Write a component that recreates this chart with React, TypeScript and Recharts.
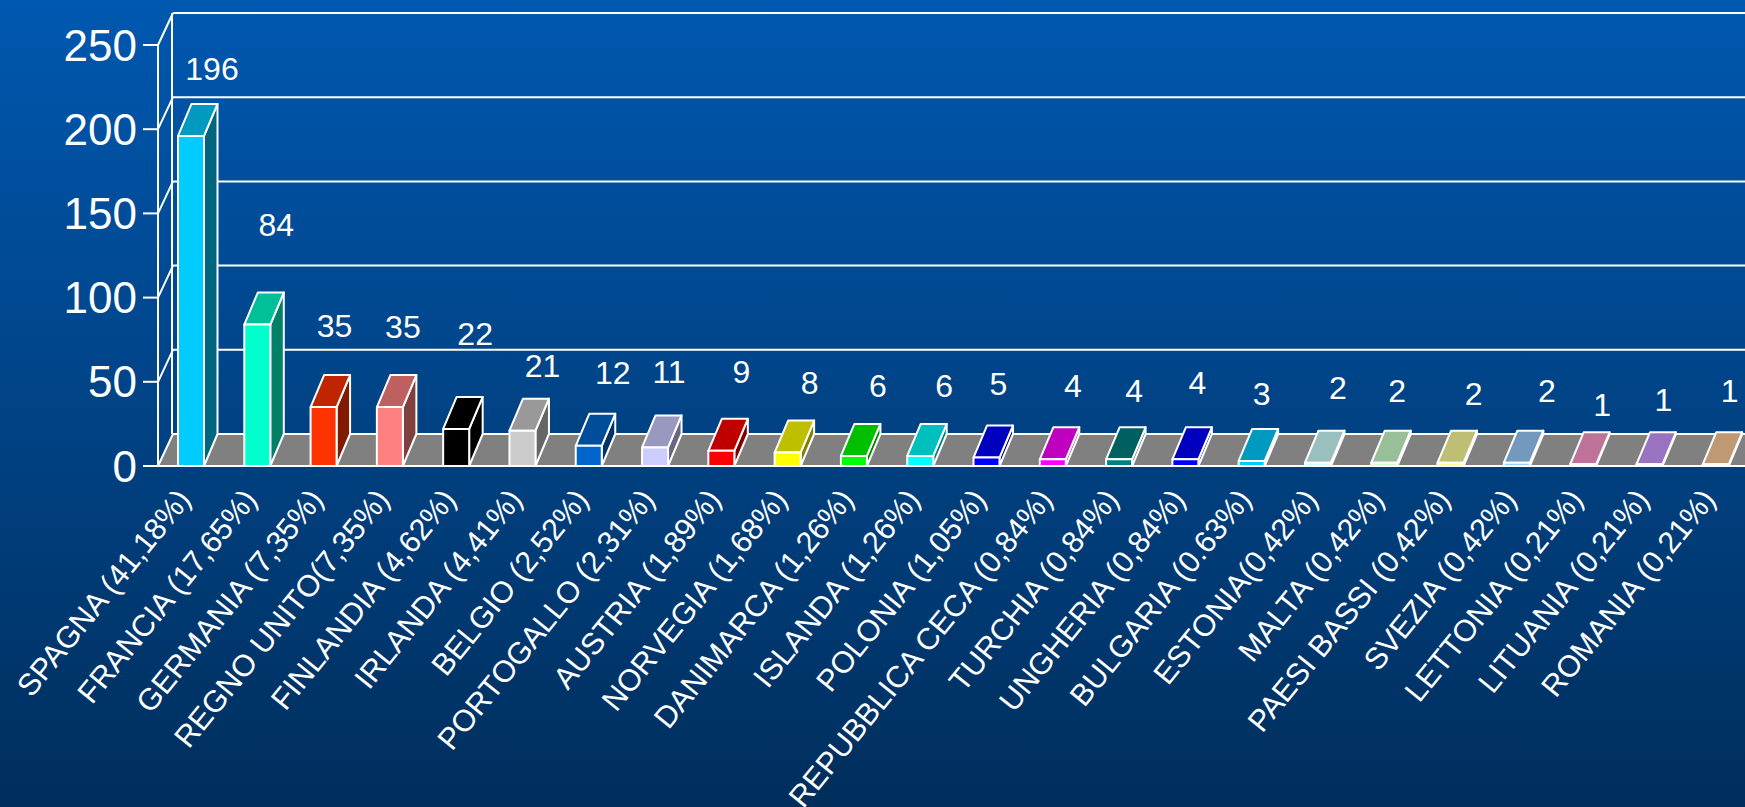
import React from "react";
import { BarChart, Bar, XAxis, YAxis, ReferenceLine, LabelList } from "recharts";

const categories = ["SPAGNA (41,18%)","FRANCIA (17,65%)","GERMANIA (7,35%)","REGNO UNITO(7,35%)","FINLANDIA (4,62%)","IRLANDA (4,41%)","BELGIO (2,52%)","PORTOGALLO (2,31%)","AUSTRIA (1,89%)","NORVEGIA (1,68%)","DANIMARCA (1,26%)","ISLANDA (1,26%)","POLONIA (1,05%)","REPUBBLICA CECA (0,84%)","TURCHIA (0,84%)","UNGHERIA (0,84%)","BULGARIA (0.63%)","ESTONIA(0,42%)","MALTA (0,42%)","PAESI BASSI (0,42%)","SVEZIA (0,42%)","LETTONIA (0,21%)","LITUANIA (0,21%)","ROMANIA (0,21%)"];
const values = [196,84,35,35,22,21,12,11,9,8,6,6,5,4,4,4,3,2,2,2,2,1,1,1];
const colors = ["#00CCFF","#00FFCC","#FF3300","#FF8080","#000000","#CCCCCC","#0066CC","#CCCCFF","#FF0000","#FFFF00","#00FF00","#00FFFF","#0000FF","#FF00FF","#008080","#0000FF","#00CCFF","#CCFFFF","#CCFFCC","#FFFF99","#99CCFF","#FF99CC","#CC99FF","#FFCC99"];
const yTicks = [0,50,100,150,200,250];
const labelDx = [21,19,11,13,19,20,24,14,20,22,24,24,12,20,15,12,10,20,13,23,30,19,14,14];
const labelDy = [-67,-100,-81,-80,-95,-65,-73,-75,-79,-70,-70,-70,-74,-73,-68,-76,-67,-75,-72,-69,-72,-59,-64,-73];

const data = categories.map((name, i) => ({ name, value: values[i], color: colors[i] }));
const DX = 15, DY = -32, FONT = "'Liberation Sans', Arial, sans-serif";

function shade(hex: string, k: number) {
  const n = parseInt(hex.slice(1), 16);
  const c = [(n >> 16) & 255, (n >> 8) & 255, n & 255].map((v) => Math.round(v * k));
  return `rgb(${c[0]},${c[1]},${c[2]})`;
}

const Bar3D = (p: any) => {
  const { x, y, width: w, height: h, payload } = p;
  const dx = 13.5;
  const st = { stroke: "#fff", strokeWidth: 2, strokeLinejoin: "round" as const };
  return (
    <g>
      <polygon points={`${x + w},${y} ${x + w + dx},${y + DY} ${x + w + dx},${y + h + DY} ${x + w},${y + h}`} fill={shade(payload.color, 0.5)} {...st} />
      <polygon points={`${x},${y} ${x + dx},${y + DY} ${x + w + dx},${y + DY} ${x + w},${y}`} fill={shade(payload.color, 0.75)} {...st} />
      <rect x={x} y={y} width={w} height={h} fill={payload.color} {...st} />
    </g>
  );
};

const wallShape = (isFloor: boolean) => (p: any) => {
  const { x1, x2, y1 } = p;
  const y = y1;
  const st = { stroke: "#fff", strokeWidth: 2 };
  return (
    <g>
      {isFloor && <polygon points={`${x1},${y} ${x1 + DX},${y + DY} ${x2},${y + DY} ${x2},${y}`} fill="#808080" />}
      <line x1={x1} y1={y} x2={x1 + DX} y2={y + DY} {...st} />
      <line x1={x1 + DX} y1={y + DY} x2={x2} y2={y + DY} {...st} />
      {isFloor && <line x1={x1} y1={y} x2={x2} y2={y} {...st} />}
    </g>
  );
};

const XTick = (p: any) => {
  const { x, y, payload } = p;
  return (
    <text transform={`translate(${x + 1},${y + 26}) rotate(-51)`} textAnchor="end" fill="#fff" fontFamily={FONT} fontSize={30.5}>
      {payload.value}
    </text>
  );
};

const YTick = (p: any) => {
  const { x, y, payload } = p;
  return (
    <text x={x} y={y} textAnchor="end" dominantBaseline="central" fill="#fff" fontFamily={FONT} fontSize={44}>
      {payload.value}
    </text>
  );
};

const BarLabel = (p: any) => {
  const { x, y, width, index, value } = p;
  return (
    <text x={x + width / 2 + labelDx[index]} y={y + labelDy[index]} textAnchor="middle" dominantBaseline="central" fill="#fff" fontFamily={FONT} fontSize={32}>
      {value}
    </text>
  );
};

export default function App() {
  return (
    <div style={{ position: "fixed", left: 0, top: 0, width: 1745, height: 807, overflow: "hidden", background: "linear-gradient(180deg,#0058B0 0%,#002E5C 100%)" }}>
      <BarChart width={1760} height={807} data={data} margin={{ top: 45, right: 11, bottom: 0, left: 0 }} barSize={26}>
        <XAxis dataKey="name" interval={0} axisLine={false} tickLine={false} height={341} tick={XTick} />
        <YAxis domain={[0, 250]} ticks={yTicks} width={158} tickSize={15} tickMargin={6} axisLine={{ stroke: "#fff", strokeWidth: 2 }} tickLine={{ stroke: "#fff", strokeWidth: 2 }} tick={YTick} />
        {yTicks.map((t) => (
          <ReferenceLine key={t} y={t} zIndex={100} shape={wallShape(t === 0)} />
        ))}
        <ReferenceLine zIndex={100} segment={[{ x: categories[0], y: 0 }, { x: categories[0], y: 250 }]} shape={(p: any) => <line x1={172} y1={p.y1 + DY} x2={172} y2={p.y2 + DY} stroke="#fff" strokeWidth={2} />} />
        <Bar dataKey="value" isAnimationActive={false} shape={Bar3D}>
          <LabelList dataKey="value" content={BarLabel} />
        </Bar>
      </BarChart>
    </div>
  );
}
